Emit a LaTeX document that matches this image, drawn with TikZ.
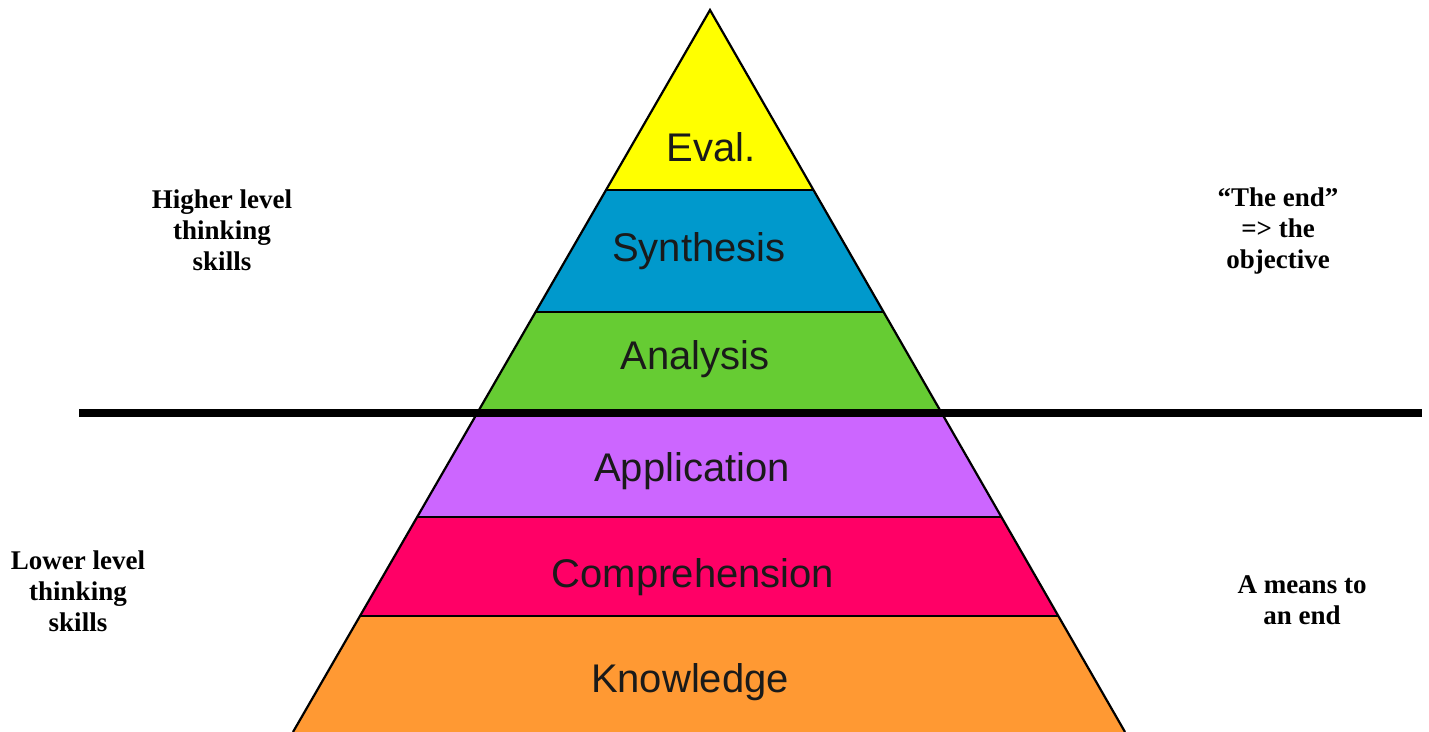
\documentclass[tikz,border=0pt]{standalone}
\usepackage{fontspec}
\setmainfont{Liberation Serif}
\newfontfamily\pyrfont{Liberation Sans}
\usetikzlibrary{calc}
\definecolor{evalc}{HTML}{FFFF00}
\definecolor{synthc}{HTML}{0099CC}
\definecolor{analc}{HTML}{66CC33}
\definecolor{applc}{HTML}{CC66FF}
\definecolor{compc}{HTML}{FF0066}
\definecolor{knowc}{HTML}{FF9933}
\definecolor{lbltext}{HTML}{1A1A1A}
\begin{document}
\begin{tikzpicture}[x=0.5pt,y=-0.5pt,
  edge/.style={draw=black,line width=1.1pt,line cap=butt},
  divider/.style={draw=black,line width=1.1pt},
  lvl/.style={font=\pyrfont\fontsize{20}{24}\selectfont, text=lbltext, anchor=base, inner sep=0pt},
  side/.style={font=\bfseries\fontsize{13.5}{15.5}\selectfont, align=center, inner sep=0pt}]
\useasboundingbox (0,0) rectangle (1429,732);
\coordinate (A) at (710,10);
\coordinate (BL) at (293,732);
\coordinate (BR) at (1125,732);
\coordinate (L1) at ($(A)!0.2493!(BL)$);
\coordinate (R1) at ($(A)!0.2493!(BR)$);
\coordinate (L2) at ($(A)!0.4183!(BL)$);
\coordinate (R2) at ($(A)!0.4183!(BR)$);
\coordinate (L3) at ($(A)!0.5582!(BL)$);
\coordinate (R3) at ($(A)!0.5582!(BR)$);
\coordinate (L4) at ($(A)!0.7022!(BL)$);
\coordinate (R4) at ($(A)!0.7022!(BR)$);
\coordinate (L5) at ($(A)!0.8393!(BL)$);
\coordinate (R5) at ($(A)!0.8393!(BR)$);
% bands
\fill[evalc] (A) -- (L1) -- (R1) -- cycle;
\fill[synthc] (L1) -- (L2) -- (R2) -- (R1) -- cycle;
\fill[analc] (L2) -- (L3) -- (R3) -- (R2) -- cycle;
\fill[applc] (L3) -- (L4) -- (R4) -- (R3) -- cycle;
\fill[compc] (L4) -- (L5) -- (R5) -- (R4) -- cycle;
\fill[knowc] (L5) -- (BL) -- (BR) -- (R5) -- cycle;
% dividers
\draw[divider] (L1) -- (R1);
\draw[divider] (L2) -- (R2);
\draw[divider] (L4) -- (R4);
\draw[divider] (L5) -- (R5);
% outline
\draw[edge,line join=miter] (BL) -- (A) -- (BR);
% thick separating line
\coordinate (HL) at (79,413);
\coordinate (HR) at (1422,413);
\draw[line width=4pt] (HL) -- (HR);
% level labels
\node[lvl] (eval) at (711,162) {Eval.};
\node[lvl] (synth) at (699,262) {Synthesis};
\node[lvl] (anal) at (695,370) {Analysis};
\node[lvl] (appl) at (692,481) {Application};
\node[lvl] (comp) at (693,587) {Comprehension};
\node[lvl] (know) at (690,692) {Knowledge};
% side texts
\node[side] (higher) at (222,230) {Higher level\\thinking\\skills};
\node[side] (theend) at (1278,231) {``The end''\\=> the\\objective};
\node[side] (lower) at (78,591) {Lower level\\thinking\\skills};
\node[side] (means) at (1302,600) {A means to\\an end};
\end{tikzpicture}
\end{document}
